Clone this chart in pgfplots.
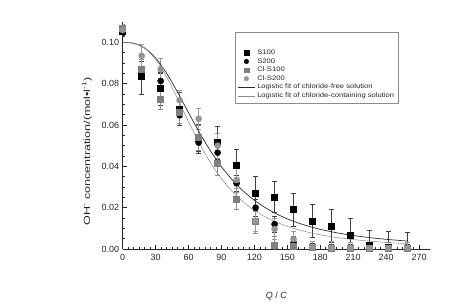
\documentclass[border=0pt]{standalone}
\usepackage{fontspec}
\setmainfont{Liberation Sans}
\newfontfamily\ylabfont[FakeStretch=1.4]{Liberation Sans}
\newfontfamily\legfont[FakeStretch=1.16]{Liberation Sans}
\usepackage{pgfplots}
\pgfplotsset{compat=1.18}
\definecolor{gsq}{HTML}{7F7F7F}
\definecolor{gci}{HTML}{959595}
\definecolor{fitA}{HTML}{2A2A2A}
\definecolor{fitB}{HTML}{8A8A8A}
\begin{document}
\begin{tikzpicture}
\path[use as bounding box] (-122.7bp,-59bp) rectangle (336.3bp,249bp);
\begin{axis}[
  scale only axis, width=307.3bp, height=227.3bp,
  xmin=0, xmax=280, ymin=0, ymax=0.11,
  axis x line*=bottom, axis y line*=left,
  axis line style={-, line width=0.6pt, black!85},
  xtick={0,30,60,90,120,150,180,210,240,270},
  ytick={0,0.02,0.04,0.06,0.08,0.10},
  minor x tick num=5, minor y tick num=3,
  tick align=inside, major tick length=4bp, minor tick length=2bp,
  tick style={line width=0.5pt, black!85},
  /pgf/number format/assume math mode=true,
  yticklabel style={/pgf/number format/.cd, fixed, fixed zerofill, precision=2},
  xticklabel style={/pgf/number format/.cd, fixed, precision=0, /tikz/yshift=-1.5bp},
  ticklabel style={font=\fontsize{9}{10}\selectfont, text=black!85},
  every axis y label/.style={at={(axis description cs:-0.116,0.43)}, rotate=90, anchor=center},
  every axis x label/.style={at={(axis description cs:0.5,-0.207)}, anchor=center},
  ylabel={\ylabfont OH\textsuperscript{-} concentration/(mol•l\textsuperscript{-1})},
  xlabel={\textit{Q} / \textit{C}},
  label style={font=\fontsize{9}{10}\selectfont, text=black!85},
  legend style={at={(0.365,0.953)}, anchor=north west, draw=black!45, line width=0.4pt,
    font=\legfont\fontsize{6.6}{7.6}\selectfont, row sep=-1.6pt, inner sep=2.5pt, text=black!85},
  legend image post style={mark size=2.3bp},
  legend cell align=left,
  error bars/y dir=both, error bars/y explicit,
]
\addlegendimage{empty legend}\addlegendentry{\rule{0pt}{9bp}}
% S100
\addplot[only marks, mark=square*, mark size=3bp, black, mark options={fill=black},
  error bars/error bar style={black!75, line width=0.4pt},
  error bars/error mark options={rotate=90, mark size=2.6bp, black!75, line width=0.4pt}]
 coordinates {
 (0,0.1055) +- (0,0.002)
 (17.3,0.0834) +- (0,0.0085)
 (34.6,0.0778) +- (0,0.008)
 (51.9,0.0678) +- (0,0.008)
 (69.2,0.0535) +- (0,0.007)
 (86.5,0.0515) +- (0,0.008)
 (103.8,0.0407) +- (0,0.0075)
 (121.1,0.0270) +- (0,0.008)
 (138.4,0.0253) +- (0,0.0075)
 (155.7,0.0192) +- (0,0.008)
 (173.0,0.0136) +- (0,0.008)
 (190.3,0.0111) +- (0,0.008)
 (207.6,0.0068) +- (0,0.008)
 (224.9,0.0016) +- (0,0.0075)
 (242.2,0.0008) +- (0,0.0079)
 (259.5,0.0005) +- (0,0.0075)
 };
\addlegendentry{S100}
% S200
\addplot[only marks, mark=*, mark size=3.1bp, black,
  error bars/error bar style={black!75, line width=0.4pt},
  error bars/error mark options={rotate=90, mark size=2.6bp, black!75, line width=0.4pt}]
 coordinates {
 (0,0.1050) +- (0,0.002)
 (17.3,0.0870) +- (0,0.004)
 (34.6,0.0813) +- (0,0.004)
 (51.9,0.0647) +- (0,0.004)
 (69.2,0.0515) +- (0,0.004)
 (86.5,0.0466) +- (0,0.004)
 (103.8,0.0318) +- (0,0.004)
 (121.1,0.0200) +- (0,0.004)
 (138.4,0.0120) +- (0,0.004)
 (155.7,0.0030) +- (0,0.003)
 (173.0,0.0010) +- (0,0.002)
 (190.3,0.0005) +- (0,0.002)
 (207.6,0.0003) +- (0,0.002)
 (224.9,0.0003) +- (0,0.002)
 (242.2,0.0003) +- (0,0.002)
 (259.5,0.0003) +- (0,0.002)
 };
\addlegendentry{S200}
% Cl-S100
\addplot[only marks, mark=square*, mark size=3bp, gsq, mark options={fill=gsq},
  error bars/error bar style={black!45, line width=0.4pt},
  error bars/error mark options={rotate=90, mark size=2.6bp, black!45, line width=0.4pt}]
 coordinates {
 (0,0.1070) +- (0,0.002)
 (17.3,0.0870) +- (0,0.005)
 (34.6,0.0725) +- (0,0.005)
 (51.9,0.0660) +- (0,0.005)
 (69.2,0.0540) +- (0,0.006)
 (86.5,0.0415) +- (0,0.006)
 (103.8,0.0242) +- (0,0.005)
 (121.1,0.0136) +- (0,0.006)
 (138.4,0.0020) +- (0,0.004)
 (155.7,0.0015) +- (0,0.003)
 (173.0,0.0010) +- (0,0.003)
 (190.3,0.0006) +- (0,0.003)
 (207.6,0.0005) +- (0,0.003)
 (224.9,0.0005) +- (0,0.003)
 (242.2,0.0005) +- (0,0.003)
 (259.5,0.0005) +- (0,0.003)
 };
\addlegendentry{Cl-S100}
% Cl-S200
\addplot[only marks, mark=*, mark size=3.1bp, gci,
  error bars/error bar style={black!40, line width=0.4pt},
  error bars/error mark options={rotate=90, mark size=2.6bp, black!40, line width=0.4pt}]
 coordinates {
 (0,0.1060) +- (0,0.002)
 (17.3,0.0935) +- (0,0.0055)
 (34.6,0.0870) +- (0,0.0055)
 (51.9,0.0720) +- (0,0.005)
 (69.2,0.0630) +- (0,0.005)
 (86.5,0.0500) +- (0,0.006)
 (103.8,0.0334) +- (0,0.006)
 (121.1,0.0135) +- (0,0.005)
 (138.4,0.0097) +- (0,0.005)
 (155.7,0.0048) +- (0,0.004)
 (173.0,0.0010) +- (0,0.003)
 (190.3,0.0006) +- (0,0.003)
 (207.6,0.0005) +- (0,0.003)
 (224.9,0.0005) +- (0,0.003)
 (242.2,0.0005) +- (0,0.003)
 (259.5,0.0005) +- (0,0.003)
 };
\addlegendentry{Cl-S200}
% Logistic fit, chloride-free
\addplot[fitA, line width=0.7pt, smooth, no marks, error bars/y explicit=false, error bars/y dir=none]
 coordinates {
 (0,0.1000) (10,0.09955) (20,0.09727) (30,0.09240) (40,0.08501) (50,0.07584)
 (60,0.06595) (70,0.05628) (80,0.04747) (90,0.03981) (100,0.03334) (110,0.02798)
 (120,0.02358) (130,0.01998) (140,0.01702) (150,0.01459) (160,0.01258) (170,0.01092)
 (180,0.00953) (190,0.00837) (200,0.00738) (210,0.00655) (220,0.00583) (230,0.00522)
 (240,0.00469) (250,0.00423) (260,0.00382)
 };
\addlegendentry{Logistic fit of chloride-free solution}
% Logistic fit, chloride-containing
\addplot[fitB, line width=0.5pt, smooth, no marks, error bars/y explicit=false, error bars/y dir=none]
 coordinates {
 (0,0.1000) (10,0.09959) (20,0.09720) (30,0.09178) (40,0.08329) (50,0.07275)
 (60,0.06157) (70,0.05099) (80,0.04173) (90,0.03399) (100,0.02771) (110,0.02269)
 (120,0.01870) (130,0.01553) (140,0.01300) (150,0.01097) (160,0.00932) (170,0.00798)
 (180,0.00688) (190,0.00597) (200,0.00522) (210,0.00458) (220,0.00404) (230,0.00359)
 (240,0.00320) (250,0.00286) (260,0.00257)
 };
\addlegendentry{Logistic fit of chloride-containing solution}
\end{axis}
\end{tikzpicture}
\end{document}
